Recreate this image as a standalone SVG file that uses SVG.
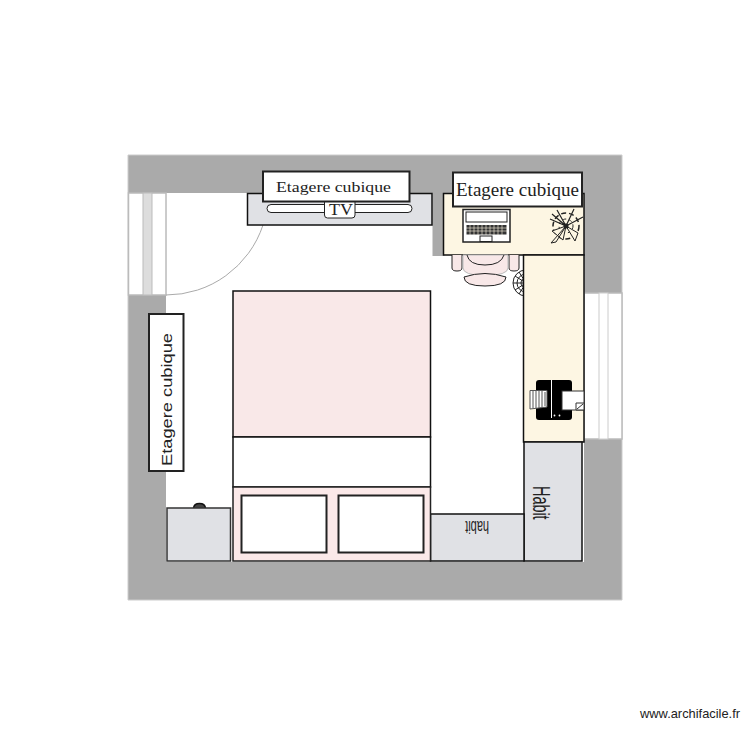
<svg xmlns="http://www.w3.org/2000/svg" width="750" height="750" viewBox="0 0 750 750">
<style>
.k{stroke:#111;stroke-width:1.5}
.g{fill:#e0e1e5}
.l{fill:#fff;stroke:#222;stroke-width:2}
.w{fill:#fff;stroke:#bbb;stroke-width:1.5}
.s{font-family:"Liberation Serif",serif;fill:#222}
.a{font-family:"Liberation Sans",sans-serif;fill:#222}
.t{fill:none;stroke:#222;stroke-width:1}
</style>
<defs><clipPath id="cp"><rect x="505" y="265" width="18" height="35"/></clipPath></defs>
<rect width="750" height="750" fill="#fff"/>
<g id="walls">
<path d="M128 155H622V600H128Z" fill="#aaa" stroke="#ccc"/>
<rect x="166" y="193" width="418" height="369" fill="#fff"/>
<rect x="432.500" y="193" width="12" height="63" fill="#aaa"/>
</g>
<g id="door">
<rect class="w" x="128.500" y="193" width="37.500" height="102"/>
<rect x="143" y="193" width="9" height="102" fill="#ddd" stroke="#bbb"/>
<path d="M166 295A102 102 0 0 0 263 225" fill="none" stroke="#aaa"/>
</g>
<g id="window">
<rect class="w" x="584" y="293" width="38" height="146"/>
<rect x="599" y="293" width="9" height="146" fill="#fff" stroke="#ccc"/>
</g>
<g id="tv-stand">
<rect class="g k" x="247.500" y="193.500" width="184.500" height="31.500"/>
<rect x="267" y="204.500" width="145" height="8" rx="4" fill="#fff" stroke="#222"/>
<rect x="324.500" y="199" width="30.500" height="19" rx="3" fill="#fff" stroke="#222"/>
<text class="s" x="329" y="214.500" font-size="17" textLength="24" lengthAdjust="spacingAndGlyphs">TV</text>
</g>
<g id="shelf-top">
<rect class="l" x="263" y="171.500" width="146.500" height="30"/>
<text class="s" x="276" y="192" font-size="14" textLength="115" lengthAdjust="spacingAndGlyphs">Etagere cubique</text>
</g>
<g id="desk">
<rect x="443.500" y="193.500" width="140.500" height="61.500" fill="#fdf6e3" stroke="#111" stroke-width="1.500"/>
</g>
<g id="chair">
<path d="M452 255V268Q452 271 457 271Q462 271 462 268V255M509 255V268Q509 271 514 271Q519 271 519 268V255" fill="#f8e8e8" stroke="#222"/>
<path d="M463 255H508V268Q508 275 485 276Q463 275 463 268Z" fill="#f8e8e8" stroke="#bbb"/>
<path d="M467 255Q469 265 485 265Q501 265 504 255" fill="none" stroke="#222"/>
<path d="M464 277Q485 270 506 277Q506 286 485 286Q464 286 464 277Z" fill="#f8e8e8" stroke="#222"/>
</g>
<g id="plant-small" clip-path="url(#cp)">
<circle cx="526" cy="283" r="13" fill="#fff" stroke="#222"/>
<circle cx="526" cy="283" r="9" class="t"/>
<circle cx="526" cy="283" r="5" class="t"/>
<path d="M513 283H526M515 276L526 283M515 290L526 283M519 272L526 283M519 294L526 283" class="t"/>
</g>
<g id="desk-side">
<rect x="523.500" y="255" width="60.500" height="187" fill="#fdf6e3" stroke="#111" stroke-width="1.500"/>
</g>
<g id="laptop">
<rect x="463" y="209.500" width="47" height="32.500" fill="#fff" stroke="#222" stroke-width="1.500"/>
<rect x="466" y="212" width="41" height="10" fill="#fff" stroke="#222"/>
<rect x="466.500" y="225" width="40" height="9.500" fill="#333"/>
<path d="M466 228H507M466 231H507M470 225V235M474 225V235M478 225V235M482 225V235M486 225V235M490 225V235M494 225V235M498 225V235M502 225V235" stroke="#fdf6e3" stroke-width=".6" fill="none"/>
<rect x="480" y="236" width="12" height="5.500" fill="#fff" stroke="#222"/>
</g>
<g id="plant">
<circle cx="566" cy="226" r="13" fill="none" stroke="#222" stroke-width="1.500" stroke-dasharray="5 3"/>
<circle cx="566" cy="226" r="7" fill="none" stroke="#222" stroke-dasharray="3 3"/>
<path d="M566 226L551 243L556 242ZM566 226L575 241L578 233ZM566 226L552 231L563 240Z" fill="#fdf6e3" stroke="#222"/>
<path d="M566 226L557 210M566 226L574 209M566 226L583 217M566 226L550 219M566 226L552 214" fill="none" stroke="#222" stroke-width="1.200"/>
<circle cx="566" cy="226" r="2.500" fill="#222"/>
</g>
<g id="printer">
<rect x="536" y="380" width="36" height="40" rx="3" fill="#000"/>
<path d="M551.500 380V418" stroke="#fff"/>
<circle cx="554.500" cy="415.500" r=".9" fill="#fff"/>
<circle cx="559.500" cy="415.500" r=".9" fill="#fff"/>
<path d="M530 390.500H547V407L530 409Z" fill="#fff" stroke="#555"/>
<path d="M533 391V408M536 391V408M539 391V408M542 391V407M545 392V406" stroke="#555"/>
<rect x="562" y="391" width="22" height="19" fill="#fff" stroke="#333"/>
<path d="M576 403H584V410H576Z" fill="#fff" stroke="#333"/>
<path d="M577 409L583 404" stroke="#333"/>
</g>
<g id="shelf-desk">
<rect class="l" x="453" y="172.500" width="129" height="34"/>
<text class="s" x="456" y="196" font-size="19" textLength="123" lengthAdjust="spacingAndGlyphs">Etagere cubique</text>
</g>
<g id="cabinet-habit">
<rect class="g k" x="524" y="442" width="58" height="119"/>
<text class="a" transform="translate(532.500 486) rotate(90) scale(.6 1)" font-size="24">Habit</text>
</g>
<g id="cabinet-bottom">
<rect class="g k" x="430.500" y="514" width="93.500" height="47"/>
<text class="a" transform="translate(489 521) rotate(180) scale(.58 1)" font-size="19">habit</text>
</g>
<g id="bed">
<rect x="233" y="291" width="197.500" height="146" fill="#f9e8e8" stroke="#111" stroke-width="1.500"/>
<rect x="233" y="437" width="197.500" height="50" fill="#fff" stroke="#111" stroke-width="1.500"/>
<rect x="233" y="487" width="197.500" height="74" fill="#fbe9e9" stroke="#222" stroke-width="1.500"/>
<rect class="l" x="241.500" y="495.500" width="85" height="57"/>
<rect class="l" x="338.500" y="495.500" width="85" height="57"/>
</g>
<g id="nightstand">
<path d="M193.500 508Q194 503.500 199.500 503.500Q205 503.500 205.500 508" fill="#444" stroke="#111" stroke-width="1.500"/>
<rect class="g" x="167" y="508" width="63.500" height="53" stroke="#333" stroke-width="1.500"/>
</g>
<g id="shelf-left">
<rect class="l" x="149" y="314" width="34.500" height="157"/>
<text class="a" transform="translate(172 466) rotate(-90)" font-size="15" textLength="133" lengthAdjust="spacingAndGlyphs">Etagere cubique</text>
</g>
<text class="a" x="640" y="718" font-size="13" textLength="100" lengthAdjust="spacingAndGlyphs">www.archifacile.fr</text>
</svg>
